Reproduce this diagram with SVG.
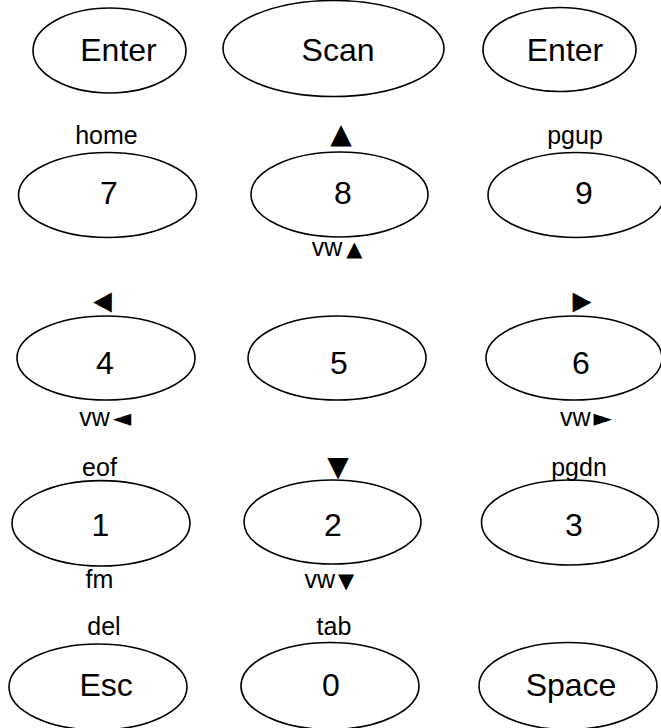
<svg xmlns="http://www.w3.org/2000/svg" width="661" height="728" viewBox="0 0 661 728">
<style>
  ellipse { fill: #ffffff; stroke: #000000; stroke-width: 1.6; }
  .key { font-family: "Liberation Sans", Arial, sans-serif; font-size: 32px; fill: #000; text-anchor: middle; }
  .lbl { font-family: "Liberation Sans", "DejaVu Sans", sans-serif; font-size: 25px; fill: #000; text-anchor: middle; }
  .vw { font-family: "Liberation Sans", "DejaVu Sans", sans-serif; font-size: 25px; fill: #000; }
  .tri { font-family: "DejaVu Sans", sans-serif; font-size: 21px; }
  .ptr { font-family: "DejaVu Sans", sans-serif; font-size: 24px; }
  .sym { font-family: "DejaVu Sans", sans-serif; font-size: 28px; fill: #000; text-anchor: middle; }
  .arr { font-family: "DejaVu Sans", sans-serif; font-size: 24.5px; fill: #000; text-anchor: middle; }
</style>
<rect width="661" height="728" fill="#ffffff"/>
<g id="connectors"/>
<g id="node-enter-left"><ellipse cx="109.5" cy="50.5" rx="76.5" ry="42.5"/><text class="key" x="118.5" y="61">Enter</text></g>
<g id="node-scan"><ellipse cx="333.5" cy="48.5" rx="110.5" ry="48"/><text class="key" x="338" y="61">Scan</text></g>
<g id="node-enter-right"><ellipse cx="559.5" cy="49.5" rx="76.5" ry="42"/><text class="key" x="565" y="61">Enter</text></g>

<g id="node-7"><ellipse cx="107.5" cy="195" rx="89" ry="42.5"/><text class="key" x="109" y="203.5">7</text><text class="lbl" x="106.5" y="143.5">home</text></g>
<g id="node-8"><ellipse cx="339.5" cy="194.5" rx="88.5" ry="42.5"/><text class="key" x="343" y="203.5">8</text><text class="sym" x="341" y="143.3">▲</text><text class="vw" x="311.7" y="256">vw<tspan class="tri" dx="4">▲</tspan></text></g>
<g id="node-9"><ellipse cx="576" cy="195" rx="88" ry="42.5"/><text class="key" x="584" y="203.5">9</text><text class="lbl" x="575" y="143.5">pgup</text></g>

<g id="node-4"><ellipse cx="106" cy="358" rx="89" ry="42"/><text class="key" x="105" y="374">4</text><text class="arr" transform="translate(102.5,312.5) scale(1,1.65)" x="0" y="0">◄</text><text class="vw" x="79.3" y="426">vw<tspan class="ptr" dx="3">◄</tspan></text></g>
<g id="node-5"><ellipse cx="337" cy="358" rx="89" ry="42"/><text class="key" x="339" y="374">5</text></g>
<g id="node-6"><ellipse cx="574" cy="358" rx="88" ry="42"/><text class="key" x="581" y="374">6</text><text class="arr" transform="translate(582,312.5) scale(1,1.65)" x="0" y="0">►</text><text class="vw" x="560" y="426">vw<tspan class="ptr" dx="3">►</tspan></text></g>

<g id="node-1"><ellipse cx="101" cy="523.3" rx="89" ry="42.7"/><text class="key" x="100.5" y="536">1</text><text class="lbl" x="99.5" y="475.7">eof</text><text class="lbl" x="99.5" y="588">fm</text></g>
<g id="node-2"><ellipse cx="332.5" cy="522" rx="88.5" ry="42"/><text class="key" x="333" y="536">2</text><text class="sym" x="338" y="475.5">▼</text><text class="vw" x="304.5" y="588">vw<tspan class="tri" dx="3">▼</tspan></text></g>
<g id="node-3"><ellipse cx="570" cy="522.5" rx="88.5" ry="42.5"/><text class="key" x="574" y="536">3</text><text class="lbl" x="579" y="475.5">pgdn</text></g>

<g id="node-esc"><ellipse cx="98" cy="687" rx="89" ry="43"/><text class="key" x="106.2" y="696">Esc</text><text class="lbl" x="104" y="635">del</text></g>
<g id="node-0"><ellipse cx="330" cy="686" rx="89" ry="43.5"/><text class="key" x="331" y="696">0</text><text class="lbl" x="334" y="635">tab</text></g>
<g id="node-space"><ellipse cx="568" cy="686" rx="89" ry="43.5"/><text class="key" x="571" y="696">Space</text></g>
</svg>
